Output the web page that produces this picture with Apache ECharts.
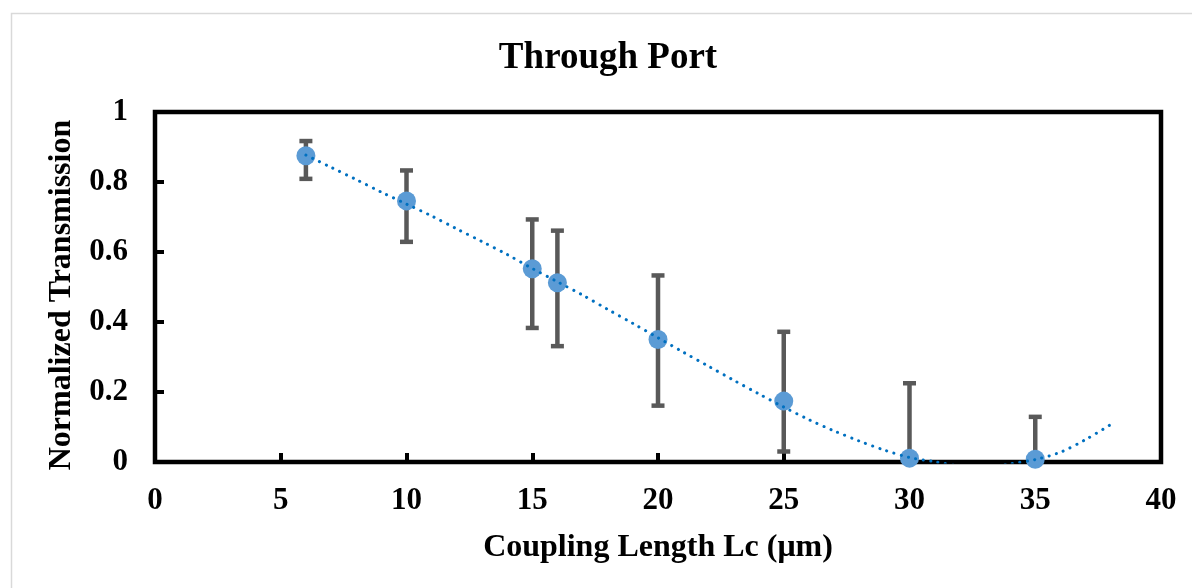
<!DOCTYPE html>
<html>
<head>
<meta charset="utf-8">
<script src="https://cdn.jsdelivr.net/npm/echarts@6/dist/echarts.min.js"></script>
<style>
html,body{margin:0;padding:0;background:#fff;}
#chart{width:1192px;height:588px;}
</style>
</head>
<body>
<div id="chart"></div>
<script>
// Measured data (Coupling length in µm)
var lengths = [6, 10, 15, 16, 20, 25, 30, 35];
var transmission = [0.875, 0.746, 0.552, 0.512, 0.350, 0.174, 0.011, 0.008];
var errUpper = [0.917, 0.833, 0.693, 0.661, 0.533, 0.372, 0.225, 0.129];
var errLower = [0.809, 0.629, 0.383, 0.331, 0.161, 0.030, 0.0, 0.0];

// Trendline values
var trendX = [6, 7, 8, 9, 10, 11, 12, 13, 14, 15, 16, 17, 18, 19, 20, 21, 22, 23, 24, 25, 26, 27, 28, 29, 30, 31, 32, 33, 34, 35, 36, 37, 38];
var trendY = [0.877, 0.842, 0.807, 0.771, 0.737, 0.703, 0.666, 0.630, 0.593, 0.553, 0.515, 0.477, 0.436, 0.396, 0.355, 0.314, 0.274, 0.234, 0.195, 0.157, 0.121, 0.089, 0.060, 0.034, 0.013, 0.001, -0.011, -0.014, -0.005, 0.007, 0.028, 0.064, 0.107];

var xTicks = [0, 5, 10, 15, 20, 25, 30, 35, 40];
var yTicks = [0, 0.2, 0.4, 0.6, 0.8, 1];

var FONT = '"Liberation Serif", "Times New Roman", serif';

var pointData = lengths.map(function (x, i) { return [x, transmission[i]]; });
var errData = lengths.map(function (x, i) { return [x, errLower[i], errUpper[i]]; });
var trendData = trendX.map(function (x, i) { return [x, trendY[i]]; });

var chart = echarts.init(document.getElementById('chart'), null, {renderer: 'canvas'});
chart.setOption({
  backgroundColor: '#fff',
  animation: false,
  graphic: [{
    type: 'rect', shape: {x: 11.5, y: 13.5, width: 1200, height: 600},
    style: {fill: 'none', stroke: '#D9D9D9', lineWidth: 1.5}, z: -10
  }, {
    type: 'text', x: 62, y: 295, rotation: Math.PI / 2,
    style: {text: 'Normalized Transmission', fontFamily: FONT, fontWeight: 'bold', fontSize: 32,
      fill: '#000', align: 'center', verticalAlign: 'middle'}
  }],
  title: {
    text: 'Through Port', left: 603, top: 35, textAlign: 'center',
    textStyle: {fontFamily: FONT, fontWeight: 'bold', fontSize: 37, color: '#000'}
  },
  grid: {
    left: 155, top: 112, right: 31, bottom: 126,
    show: true, borderColor: '#000', borderWidth: 4.5, backgroundColor: 'transparent'
  },
  xAxis: {
    type: 'value', min: 0, max: 40, interval: 5,
    name: 'Coupling Length Lc (μm)', nameLocation: 'middle', nameGap: 70,
    nameTextStyle: {fontFamily: FONT, fontWeight: 'bold', fontSize: 32, color: '#000'},
    axisLine: {show: false},
    axisTick: {show: true, inside: true, length: 9, lineStyle: {color: '#000', width: 4}},
    axisLabel: {fontFamily: FONT, fontWeight: 'bold', fontSize: 31, color: '#000', margin: 23,
      formatter: function (v) { return xTicks.indexOf(v) >= 0 ? String(v) : ''; }},
    splitLine: {show: false}
  },
  yAxis: {
    type: 'value', min: 0, max: 1, interval: 0.2,
    axisLine: {show: false},
    axisTick: {show: true, inside: true, length: 9, lineStyle: {color: '#000', width: 4}},
    axisLabel: {fontFamily: FONT, fontWeight: 'bold', fontSize: 31, color: '#000', margin: 27,
      formatter: function (v) {
        for (var i = 0; i < yTicks.length; i++) { if (Math.abs(yTicks[i] - v) < 1e-9) return String(yTicks[i]); }
        return '';
      }},
    splitLine: {show: false}
  },
  series: [
    {
      type: 'custom', z: 2, clip: true,
      data: errData,
      renderItem: function (params, api) {
        var x = api.value(0);
        var lo = api.coord([x, api.value(1)]);
        var hi = api.coord([x, api.value(2)]);
        var capW = 6.5;
        var st = {stroke: '#595959', lineWidth: 4.5};
        return {
          type: 'group',
          children: [
            {type: 'line', shape: {x1: lo[0], y1: lo[1], x2: hi[0], y2: hi[1]}, style: st},
            {type: 'line', shape: {x1: hi[0] - capW, y1: hi[1], x2: hi[0] + capW, y2: hi[1]}, style: st},
            {type: 'line', shape: {x1: lo[0] - capW, y1: lo[1], x2: lo[0] + capW, y2: lo[1]}, style: st}
          ]
        };
      }
    },
    {
      type: 'scatter', z: 3,
      data: pointData,
      symbol: 'circle', symbolSize: 19,
      itemStyle: {color: '#5B9BD5', opacity: 1}
    },
    {
      type: 'line', z: 4, clip: true,
      data: trendData,
      showSymbol: false, smooth: 0.3,
      lineStyle: {color: '#0070C0', width: 3, type: [0.1, 7.4], cap: 'round'}
    }
  ]
});
</script>
</body>
</html>
